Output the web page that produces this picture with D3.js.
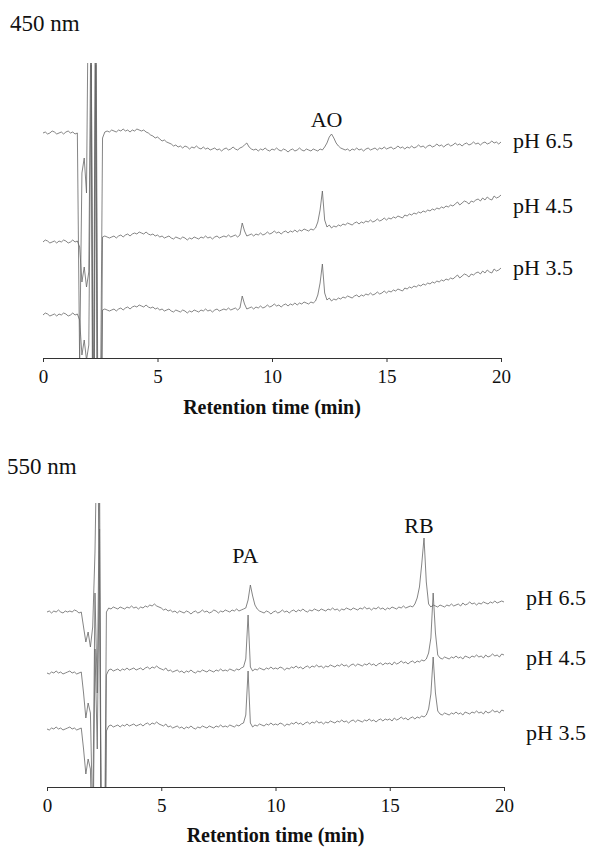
<!DOCTYPE html>
<html lang="en">
<head>
<meta charset="UTF-8">
<script src="https://d3js.org/d3.v7.min.js"></script>
<style>
  body { margin: 0; background: #fff; }
  svg text { font-family: "Liberation Serif", "Times New Roman", serif; fill: #111; }
  .trace { fill: none; stroke: #666; stroke-width: 0.8px; stroke-linejoin: round; }
  .axis path, .axis line { stroke: #333; stroke-width: 1px; }
  .axis-title { font-size: 20px; font-weight: bold; }
  .panel-title { font-size: 23px; }
  .ph-label, .peak-label { font-size: 22px; }
</style>
</head>
<body>
<div id="chart"></div>
<script>
// sampling interval of the detector traces (min)
const timeStep = 0.1;
const ticks = [0, 5, 10, 15, 20];
const phLabels = ["pH 6.5", "pH 4.5", "pH 3.5"];

// 450 nm, signal relative to each trace's starting baseline (arb. units)
const top65 = [
  0, 1, -1, 0, 2, 1, -1, 0, 1, -1,
  1, 2, 0, 1, -1, 0, -230, -40, -25, -60,
  200, 100, -300, 200, -300, -300, -5, 1, 2, 1,
  3, 2, 1, 3, 2, 4, 2, 3, 1, 3,
  2, 4, 3, 2, 3, 1, 0, -2, -3, -5,
  -4, -6, -8, -7, -9, -10, -11, -13, -12, -14,
  -13, -15, -13, -14, -16, -14, -15, -13, -15, -16,
  -14, -16, -15, -17, -16, -15, -17, -16, -18, -16,
  -15, -17, -16, -14, -16, -17, -15, -14, -12, -10,
  -14, -16, -17, -16, -18, -16, -17, -15, -17, -18,
  -16, -17, -15, -17, -18, -16, -17, -19, -17, -16,
  -18, -17, -15, -17, -18, -16, -17, -18, -16, -17,
  -18, -16, -17, -14, -10, -4, -1, -5, -10, -13,
  -15, -16, -17, -16, -18, -16, -17, -15, -17, -16,
  -18, -16, -15, -17, -16, -15, -17, -15, -16, -14,
  -16, -15, -14, -16, -15, -13, -15, -14, -16, -14,
  -15, -13, -15, -14, -12, -14, -13, -15, -13, -12,
  -14, -13, -11, -13, -12, -14, -12, -11, -13, -12,
  -10, -12, -11, -13, -11, -10, -12, -11, -9, -11,
  -10, -12, -10, -9, -11, -10, -8, -10, -9, -11,
  -9
];
// pH 4.5 and pH 3.5 at 450 nm have the same profile
const top45 = [
  0, 2, 1, -1, 0, 1, -1, 1, 0, 2,
  1, -1, 0, 2, 0, 1, -5, -40, -25, -45,
  -30, 250, -300, 250, -300, -300, 5, 6, 5, 4,
  5, 6, 4, 6, 7, 5, 7, 8, 6, 8,
  9, 8, 10, 9, 8, 10, 8, 7, 8, 6,
  7, 5, 6, 4, 5, 6, 4, 3, 5, 4,
  3, 5, 4, 2, 4, 3, 5, 4, 3, 5,
  4, 6, 4, 5, 3, 5, 6, 4, 5, 6,
  5, 7, 5, 6, 7, 5, 7, 19, 11, 6,
  7, 8, 6, 8, 7, 9, 7, 8, 10, 8,
  9, 11, 9, 10, 8, 10, 11, 9, 11, 10,
  12, 10, 12, 11, 13, 12, 11, 13, 12, 14,
  20, 32, 51, 22, 15, 17, 14, 16, 15, 17,
  16, 18, 17, 19, 18, 17, 19, 20, 18, 20,
  19, 21, 20, 22, 20, 21, 23, 21, 22, 24,
  22, 24, 23, 25, 24, 26, 25, 24, 27, 26,
  28, 27, 29, 28, 30, 29, 31, 30, 32, 31,
  33, 32, 34, 33, 35, 34, 36, 35, 37, 36,
  38, 40, 37, 39, 41, 40, 38, 41, 40, 42,
  43, 41, 44, 42, 45, 43, 42, 46, 44, 45,
  47
];
const top35 = top45;
const topOffsets = [225, 116, 43];

// 550 nm
const bot65 = [
  0, 1, -1, 1, 0, 2, 0, -1, 1, 0,
  1, 0, 2, 1, -1, 0, -15, -30, -20, -35,
  -15, 60, 200, 20, -300, -300, 0, 4, 3, 5,
  4, 3, 5, 4, 3, 5, 4, 6, 4, 5,
  3, 5, 4, 6, 5, 7, 6, 8, 6, 5,
  4, 2, 3, 1, 2, 0, 1, -1, 1, 0,
  -1, 1, 0, -2, 0, 1, -1, 0, 2, 0,
  1, -1, 0, 2, 1, -1, 1, 0, 2, 1,
  0, 2, 1, 3, 1, 2, 3, 4, 12, 27,
  16, 7, 3, 1, 0, -1, 1, 0, -2, 0,
  1, -1, 0, 2, 0, 1, -1, 1, 2, 0,
  2, 1, 3, 1, 0, 2, 1, 3, 2, 1,
  3, 2, 1, 3, 2, 4, 2, 3, 1, 3,
  2, 4, 3, 2, 4, 3, 2, 4, 3, 5,
  3, 4, 2, 4, 3, 5, 3, 4, 2, 4,
  3, 5, 4, 3, 5, 4, 6, 4, 5, 6,
  5, 8, 14, 25, 48, 74, 30, 8, 5, 7,
  6, 5, 7, 6, 5, 7, 6, 8, 6, 7,
  8, 6, 9, 7, 8, 10, 8, 9, 7, 9,
  8, 10, 9, 8, 10, 9, 11, 9, 10, 11,
  10
];
const bot45 = [
  0, -1, 1, 0, 2, 0, 1, -1, 0, 1,
  2, 0, 1, -1, 0, 1, -20, -45, -30, -40,
  -150, 80, -20, 200, -300, -300, -2, 3, 4, 2,
  3, 4, 2, 4, 3, 5, 3, 4, 5, 3,
  4, 5, 3, 5, 6, 4, 6, 5, 7, 5,
  4, 3, 5, 2, 3, 1, 2, 3, 1, 2,
  0, 2, 1, 3, 1, 0, 2, 1, 3, 2,
  1, 3, 2, 1, 3, 2, 4, 2, 3, 2,
  4, 3, 2, 4, 3, 5, 6, 14, 58, 6,
  2, 4, 3, 5, 4, 3, 5, 4, 6, 4,
  5, 4, 6, 5, 3, 5, 4, 6, 5, 7,
  5, 6, 4, 6, 7, 5, 7, 6, 8, 6,
  7, 5, 7, 6, 8, 7, 6, 8, 7, 9,
  7, 8, 6, 8, 9, 7, 9, 8, 7, 9,
  8, 10, 8, 9, 7, 9, 10, 8, 10, 9,
  10, 8, 11, 9, 10, 12, 10, 11, 9, 11,
  12, 10, 12, 11, 13, 12, 14, 20, 35, 80,
  40, 18, 15, 14, 16, 15, 14, 16, 15, 17,
  15, 16, 14, 17, 16, 15, 17, 16, 18, 16,
  17, 15, 18, 16, 17, 19, 17, 18, 16, 19,
  18
];
const bot35 = [
  0, -1, 1, 0, 2, 0, 1, -1, 0, 1,
  2, 0, 1, -1, 0, 1, -20, -45, -30, -40,
  -150, 80, -20, 200, -300, -300, -2, 3, 4, 2,
  3, 4, 2, 4, 3, 5, 3, 4, 5, 3,
  4, 5, 3, 5, 6, 4, 6, 5, 7, 5,
  4, 3, 5, 2, 3, 1, 2, 3, 1, 2,
  0, 2, 1, 3, 1, 0, 2, 1, 3, 2,
  1, 3, 2, 1, 3, 2, 4, 2, 3, 2,
  4, 3, 2, 4, 3, 5, 6, 14, 58, 6,
  2, 4, 3, 5, 4, 3, 5, 4, 6, 4,
  5, 4, 6, 5, 3, 5, 4, 6, 5, 7,
  5, 6, 4, 6, 7, 5, 7, 6, 8, 6,
  7, 5, 7, 6, 8, 7, 6, 8, 7, 9,
  7, 8, 6, 8, 9, 7, 9, 8, 7, 9,
  8, 10, 8, 9, 7, 9, 10, 8, 10, 9,
  10, 8, 11, 9, 10, 12, 10, 11, 9, 11,
  12, 10, 12, 11, 13, 12, 14, 20, 35, 72,
  36, 18, 15, 14, 16, 15, 14, 16, 15, 17,
  15, 16, 14, 17, 16, 15, 17, 16, 18, 16,
  17, 15, 18, 16, 17, 19, 17, 18, 16, 19,
  18
];
const botOffsets = [175, 114, 58];

const topPeaks = [{ name: "AO", time: 12.6 }];
const botPeaks = [{ name: "PA", time: 8.9 }, { name: "RB", time: 16.5 }];

// layout
const width = 593, height = 847;
const panels = [
  {
    id: "p450", title: "450 nm", series: [top65, top45, top35], offsets: topOffsets,
    yMax: 295, peaks: topPeaks,
    xRange: [43, 501], yRange: [358, 63],
    titlePos: [10, 31], phX: 513, phY: [148, 213, 275], peakY: [127], axisTitleY: 414
  },
  {
    id: "p550", title: "550 nm", series: [bot65, bot45, bot35], offsets: botOffsets,
    yMax: 284, peaks: botPeaks,
    xRange: [47, 504], yRange: [787, 503],
    titlePos: [7, 474], phX: 526, phY: [605, 665, 740], peakY: [563, 533], axisTitleY: 842
  }
];

const svg = d3.select("#chart").append("svg")
  .attr("width", width)
  .attr("height", height);

panels.forEach(p => {
  const x = d3.scaleLinear().domain([0, 20]).range(p.xRange);
  const y = d3.scaleLinear().domain([0, p.yMax]).range(p.yRange);
  const g = svg.append("g");

  g.append("clipPath").attr("id", "clip-" + p.id)
    .append("rect")
    .attr("x", p.xRange[0]).attr("y", p.yRange[1])
    .attr("width", p.xRange[1] - p.xRange[0])
    .attr("height", p.yRange[0] - p.yRange[1]);

  p.series.forEach((s, k) => {
    const line = d3.line()
      .x((d, i) => x(i * timeStep))
      .y(d => y(p.offsets[k] + d));
    g.append("path")
      .datum(s)
      .attr("class", "trace")
      .attr("clip-path", `url(#clip-${p.id})`)
      .attr("d", line);

    g.append("text")
      .attr("class", "ph-label")
      .attr("x", p.phX)
      .attr("y", p.phY[k])
      .text(phLabels[k]);
  });

  g.append("g")
    .attr("class", "axis")
    .attr("transform", `translate(0,${p.yRange[0]})`)
    .call(d3.axisBottom(x).tickValues(ticks).tickSize(4).tickSizeOuter(0).tickPadding(4))
    .call(a => a.selectAll("text")
      .attr("dy", "0.9em")
      .style("font-family", '"Liberation Serif", "Times New Roman", serif')
      .style("font-size", "19px")
      .style("fill", "#111"));

  g.append("text")
    .attr("class", "axis-title")
    .attr("x", x(10))
    .attr("y", p.axisTitleY)
    .attr("text-anchor", "middle")
    .text("Retention time (min)");

  g.append("text")
    .attr("class", "panel-title")
    .attr("x", p.titlePos[0])
    .attr("y", p.titlePos[1])
    .text(p.title);

  p.peaks.forEach((pk, j) => {
    g.append("text")
      .attr("class", "peak-label")
      .attr("x", x(pk.time) - 5)
      .attr("y", p.peakY[j])
      .attr("text-anchor", "middle")
      .text(pk.name);
  });
});
</script>
</body>
</html>
